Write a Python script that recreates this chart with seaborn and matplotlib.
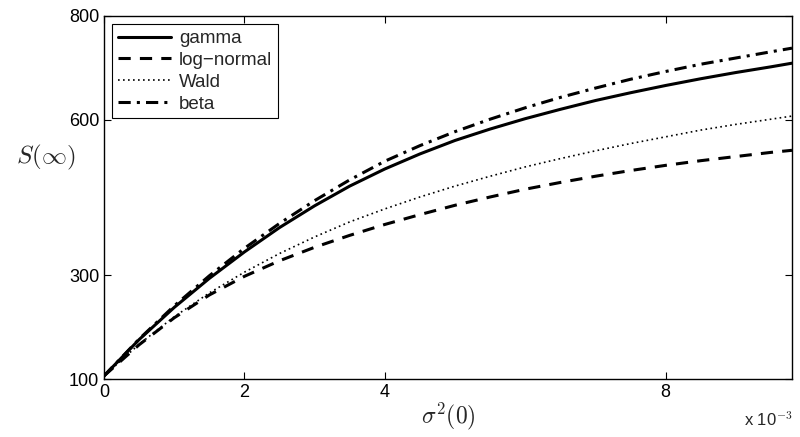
import numpy as np
import pandas as pd
import seaborn as sns
import matplotlib
matplotlib.use("Agg")
import matplotlib.pyplot as plt

# sigma^2(0) in units of 1e-3
sigma2 = [0, 0.5, 1, 1.5, 2, 2.5, 3, 3.5, 4, 4.5, 5, 5.5, 6, 6.5, 7, 7.5, 8, 8.5, 9, 9.5, 9.8]
gamma = [106, 176, 238, 294, 345, 392, 434, 472, 505, 534, 560, 582, 602, 620, 637, 652, 666, 679, 691, 702, 709]
lognormal = [106, 166, 218, 262, 298, 328, 354, 377, 398, 417, 435, 451, 466, 479, 491, 502, 512, 521, 529, 537, 541]
wald = [106, 167, 220, 266, 306, 342, 374, 403, 428, 451, 472, 491, 509, 525, 540, 554, 567, 580, 591, 601, 607]
beta = [106, 177, 241, 299, 352, 400, 444, 484, 520, 550, 577, 601, 623, 643, 661, 678, 693, 707, 719, 731, 738]

xticks = [0, 2, 4, 8]
yticks = [100, 300, 600, 800]

sns.set_style("ticks")
plt.rcParams['font.family'] = ['Liberation Sans', 'DejaVu Sans']
plt.rcParams['mathtext.fontset'] = 'cm'

fig = plt.figure(figsize=(8, 4.37), dpi=100)
ax = fig.add_axes([0.13, 0.1327, 0.86, 0.8307])

series = [("gamma", gamma, "-", 2.2),
          ("log\u2212normal", lognormal, (0, (4, 3)), 2.2),
          ("Wald", wald, (0, (1, 2)), 1.2),
          ("beta", beta, (0, (4, 2, 1, 2)), 2.2)]
for name, vals, ls, lw in series:
    df = pd.DataFrame({"x": sigma2, "y": vals})
    sns.lineplot(data=df, x="x", y="y", ax=ax, color="k", linestyle=ls,
                 linewidth=lw, label=name)

ax.set_xlim(0, 9.8)
ax.set_ylim(100, 800)
ax.set_xticks(xticks)
ax.set_yticks(yticks)
ax.tick_params(direction="in", length=5, width=0.8, labelsize=13,
               top=True, right=True, colors="k")
for s in ax.spines.values():
    s.set_linewidth(1.0)
    s.set_color("k")

ax.set_xlabel(r"$\sigma^2(0)$", fontsize=17, labelpad=0)
ax.set_ylabel(r"$S(\infty)$", fontsize=18, rotation=0)
ax.yaxis.set_label_coords(-0.085, 0.57)
fig.text(0.93, 0.025, r"x 10$^{-3}$", fontsize=12, ha="left")

leg = ax.legend(loc="upper left", fontsize=13.5, handlelength=2.8,
                fancybox=False, framealpha=1, edgecolor="k",
                borderaxespad=0.45, labelspacing=0.25, handletextpad=0.45,
                borderpad=0.3)
leg.get_frame().set_linewidth(0.8)

fig.savefig("out.png", dpi=100)
